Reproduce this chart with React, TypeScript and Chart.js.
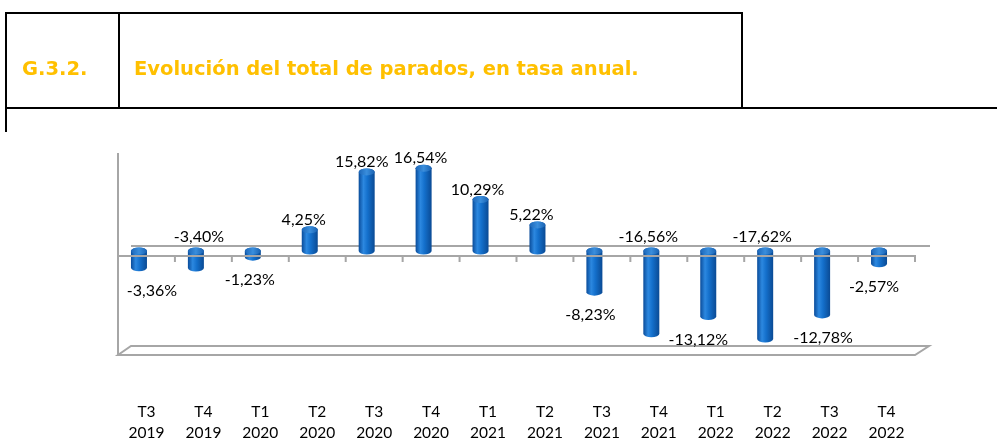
import React, { useEffect, useRef } from "react";
import { Chart, registerables } from "chart.js";

Chart.register(...registerables);

const quarters = ["T3", "T4", "T1", "T2", "T3", "T4", "T1", "T2", "T3", "T4", "T1", "T2", "T3", "T4"];
const years = ["2019", "2019", "2020", "2020", "2020", "2020", "2021", "2021", "2021", "2021", "2022", "2022", "2022", "2022"];
const values = [-3.36, -3.4, -1.23, 4.25, 15.82, 16.54, 10.29, 5.22, -8.23, -16.56, -13.12, -17.62, -12.78, -2.57];
// where each data label sits: "end" = beyond the bar end, "zero" = just above the zero line
const labelSide = ["end", "zero", "end", "end", "end", "end", "end", "end", "end", "zero", "end", "zero", "end", "end"];
const labelNudge = [13, 3, -3, -6, -5, -3, -3, -6, -4, -3, -10, -3, 1, -5];

const figureCode = "G.3.2.";
const figureTitle = "Evolución del total de parados, en tasa anual.";

const FONT = "Lato, 'DejaVu Sans', sans-serif";
const GRAY = "#A6A6A6";

const fmt = (v: number) => v.toFixed(2).replace(".", ",") + "%";

const headerPlugin = {
  id: "header",
  beforeDraw(chart: any) {
    const ctx = chart.ctx;
    ctx.save();
    ctx.strokeStyle = "#000";
    ctx.lineWidth = 2;
    ctx.strokeRect(6, 13, 736, 95);
    ctx.beginPath();
    ctx.moveTo(119, 13);
    ctx.lineTo(119, 108);
    ctx.moveTo(742, 108);
    ctx.lineTo(997, 108);
    ctx.moveTo(6, 108);
    ctx.lineTo(6, 132);
    ctx.stroke();
    ctx.fillStyle = "#FFC000";
    ctx.textBaseline = "alphabetic";
    ctx.font = "bold 19.5px 'DejaVu Sans', sans-serif";
    ctx.fillText(figureCode, 22, 75);
    ctx.fillText(figureTitle, 134, 75);
    ctx.restore();
  },
};

const cylinderPlugin = {
  id: "cylinders",
  beforeDatasetsDraw(chart: any) {
    const ctx = chart.ctx;
    const { left, right, top, bottom } = chart.chartArea;
    const y0 = chart.scales.y.getPixelForValue(0);
    ctx.save();
    ctx.strokeStyle = GRAY;
    ctx.lineWidth = 2;
    // back wall baseline
    ctx.beginPath();
    ctx.moveTo(left + 13, y0 - 5);
    ctx.lineTo(right + 15, y0 - 5);
    ctx.stroke();
    // side wall
    ctx.beginPath();
    ctx.moveTo(left, top + 2);
    ctx.lineTo(left, bottom + 5);
    ctx.stroke();
    // floor
    ctx.beginPath();
    ctx.moveTo(left, bottom + 4);
    ctx.lineTo(right, bottom + 4);
    ctx.lineTo(right + 14, bottom - 5);
    ctx.lineTo(left + 13, bottom - 5);
    ctx.closePath();
    ctx.stroke();
    ctx.restore();
  },
  afterDatasetsDraw(chart: any) {
    const ctx = chart.ctx;
    const { left, right } = chart.chartArea;
    const ys = chart.scales.y;
    const y0 = ys.getPixelForValue(0);
    const meta = chart.getDatasetMeta(0);
    const w = 16;
    const ry = 3.5;
    const shift = -7.5;
    ctx.save();
    meta.data.forEach((el: any) => {
      const x = el.x + shift;
      const yv = el.y;
      const yt = Math.min(yv, y0);
      const yb = Math.max(yv, y0);
      const xl = x - w / 2;
      const xr = x + w / 2;
      const g = ctx.createLinearGradient(xl, 0, xr, 0);
      g.addColorStop(0, "#0A4C9A");
      g.addColorStop(0.3, "#2C88E0");
      g.addColorStop(0.55, "#1470CC");
      g.addColorStop(1, "#0A4A94");
      ctx.fillStyle = g;
      ctx.beginPath();
      ctx.moveTo(xl, yt);
      ctx.lineTo(xl, yb);
      ctx.ellipse(x, yb, w / 2, ry, 0, Math.PI, 0, true);
      ctx.lineTo(xr, yt);
      ctx.ellipse(x, yt, w / 2, ry, 0, 0, Math.PI, true);
      ctx.closePath();
      ctx.fill();
      const gc = ctx.createLinearGradient(xl, 0, xr, 0);
      gc.addColorStop(0, "#1C66B8");
      gc.addColorStop(0.5, "#3A8EDC");
      gc.addColorStop(1, "#1A62B2");
      ctx.fillStyle = gc;
      ctx.beginPath();
      ctx.ellipse(x, yt, w / 2, ry, 0, 0, Math.PI * 2);
      ctx.fill();
    });
    // front baseline with ticks
    ctx.strokeStyle = GRAY;
    ctx.lineWidth = 2;
    ctx.beginPath();
    ctx.moveTo(left, y0 + 5);
    ctx.lineTo(right, y0 + 5);
    const n = values.length;
    const step = (right - left) / n;
    for (let i = 1; i <= n; i++) {
      const tx = left + i * step;
      ctx.moveTo(tx, y0 + 4);
      ctx.lineTo(tx, y0 + 11);
    }
    ctx.stroke();
    // data labels
    ctx.fillStyle = "#000";
    ctx.font = "16px " + FONT;
    ctx.textAlign = "center";
    ctx.textBaseline = "middle";
    meta.data.forEach((el: any, i: number) => {
      const v = values[i];
      const x = el.x + shift + labelNudge[i];
      let y: number;
      if (labelSide[i] === "zero") y = y0 - 14;
      else if (v >= 0) y = el.y - 10;
      else y = el.y + 23;
      ctx.fillText(fmt(v), x, y);
    });
    ctx.restore();
  },
};

export default function App() {
  const ref = useRef<HTMLCanvasElement>(null);
  useEffect(() => {
    if (!ref.current) return;
    const chart = new Chart(ref.current, {
      type: "bar",
      data: {
        labels: quarters.map((q, i) => [q, years[i]]),
        datasets: [
          {
            data: values,
            backgroundColor: "rgba(0,0,0,0)",
            borderWidth: 0,
            barThickness: 16,
          },
        ],
      },
      options: {
        responsive: false,
        animation: false,
        devicePixelRatio: 1,
        layout: { padding: { left: 118, right: 82, top: 151, bottom: 0 } },
        plugins: { legend: { display: false }, tooltip: { enabled: false }, title: { display: false } },
        scales: {
          x: {
            offset: true,
            border: { display: false },
            grid: { display: false, drawTicks: false },
            afterFit: (scale: any) => {
              scale.height = 91;
            },
            ticks: {
              autoSkip: false,
              maxRotation: 0,
              padding: 50,
              color: "#000",
              font: { family: FONT, size: 15.5, lineHeight: 1.36 },
            },
          },
          y: { display: false, min: -20, max: 20 },
        },
      },
      plugins: [headerPlugin, cylinderPlugin],
    });
    return () => chart.destroy();
  }, []);
  return (
    <div style={{ position: "fixed", left: 0, top: 0, width: 997, height: 442, background: "#fff" }}>
      <canvas ref={ref} width={997} height={442} style={{ display: "block", width: 997, height: 442 }} />
    </div>
  );
}
